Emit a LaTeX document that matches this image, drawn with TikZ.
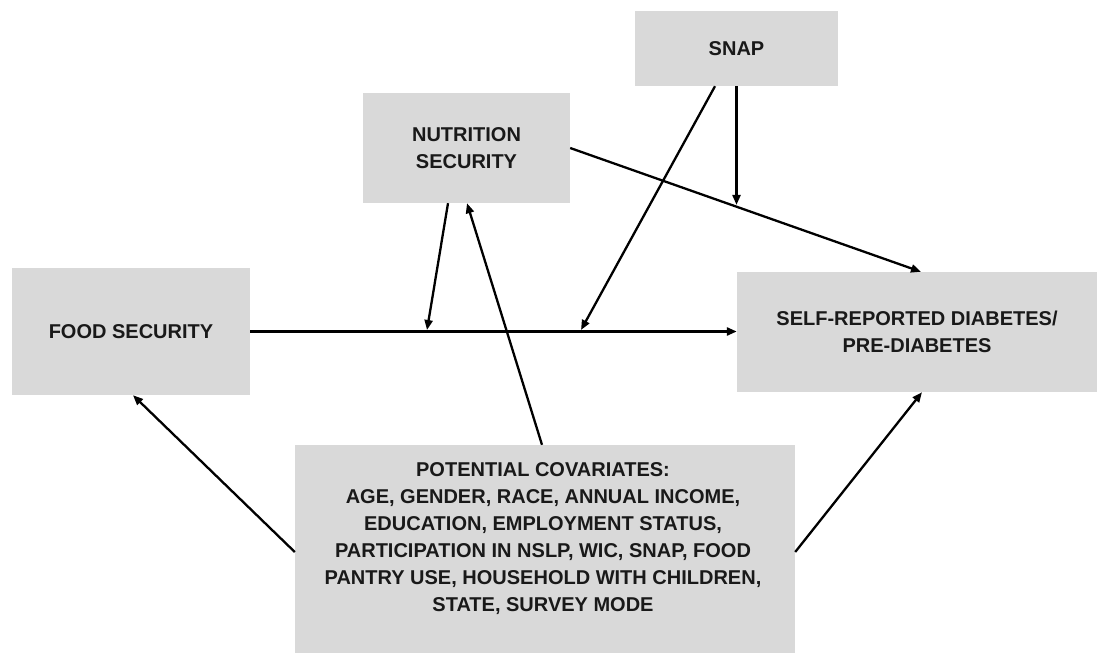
\documentclass[tikz,border=0pt]{standalone}
\usepackage{fontspec}
\setmainfont{Liberation Sans}
\usetikzlibrary{arrows.meta}
\definecolor{boxgray}{RGB}{217,217,217}
\definecolor{txt}{RGB}{25,25,25}
\begin{document}
\begin{tikzpicture}[x=1pt,y=-1pt,
  box/.style={rectangle,fill=boxgray,draw=none,inner sep=0pt,align=center,
    text=txt,font=\fontsize{20}{27}\selectfont\bfseries},
  arr/.style={draw=black,line width=2.3pt,-{Triangle[length=10pt,width=8pt]}},
  lbl/.style={align=center,text=txt,inner sep=0pt,font=\fontsize{20}{27}\selectfont\bfseries}]
\useasboundingbox (0,0) rectangle (1097,653);
\node[box,minimum width=203pt,minimum height=75pt] (snap) at (736.5,48.5) {SNAP};
\node[box,minimum width=207pt,minimum height=110pt] (nut) at (466.5,148) {NUTRITION\\SECURITY};
\node[box,minimum width=238pt,minimum height=127pt] (food) at (131,331.5) {FOOD SECURITY};
\node[box,minimum width=360pt,minimum height=120pt] (sr) at (917,332) {SELF-REPORTED DIABETES/\\PRE-DIABETES};
\node[box,minimum width=500pt,minimum height=208pt] (cov) at (545,549) {};
\node[lbl] (covtext) at (543,539) {POTENTIAL COVARIATES:\\AGE, GENDER, RACE, ANNUAL INCOME,\\EDUCATION, EMPLOYMENT STATUS,\\PARTICIPATION IN NSLP, WIC, SNAP, FOOD\\PANTRY USE, HOUSEHOLD WITH CHILDREN,\\STATE, SURVEY MODE};
\coordinate (m1) at (427,330);
\coordinate (m2) at (581,330);
% main path
\draw[arr,line width=2.8pt] (food.east) -- (food.east -| sr.west);
% nutrition -> main path
\draw[arr] ([xshift=-18.5pt]nut.south) -- (m1);
% covariates -> nutrition
\draw[arr] ([xshift=-3pt]cov.north) -- ([xshift=0.5pt]nut.south);
% snap -> main path
\draw[arr] ([xshift=-21.5pt]snap.south) -- (m2);
% nutrition -> self-reported
\draw[arr] (nut.east) -- coordinate[pos=0.476] (ns) ([xshift=4pt]sr.north);
% snap -> nutrition path
\draw[arr] (snap.south) -- ([yshift=2pt]snap.south |- ns);
% covariates -> food security
\draw[arr] ([yshift=-3pt]cov.west) -- ([xshift=2pt]food.south);
% covariates -> self-reported
\draw[arr] ([yshift=-3pt]cov.east) -- ([xshift=5pt]sr.south);
\end{tikzpicture}
\end{document}
